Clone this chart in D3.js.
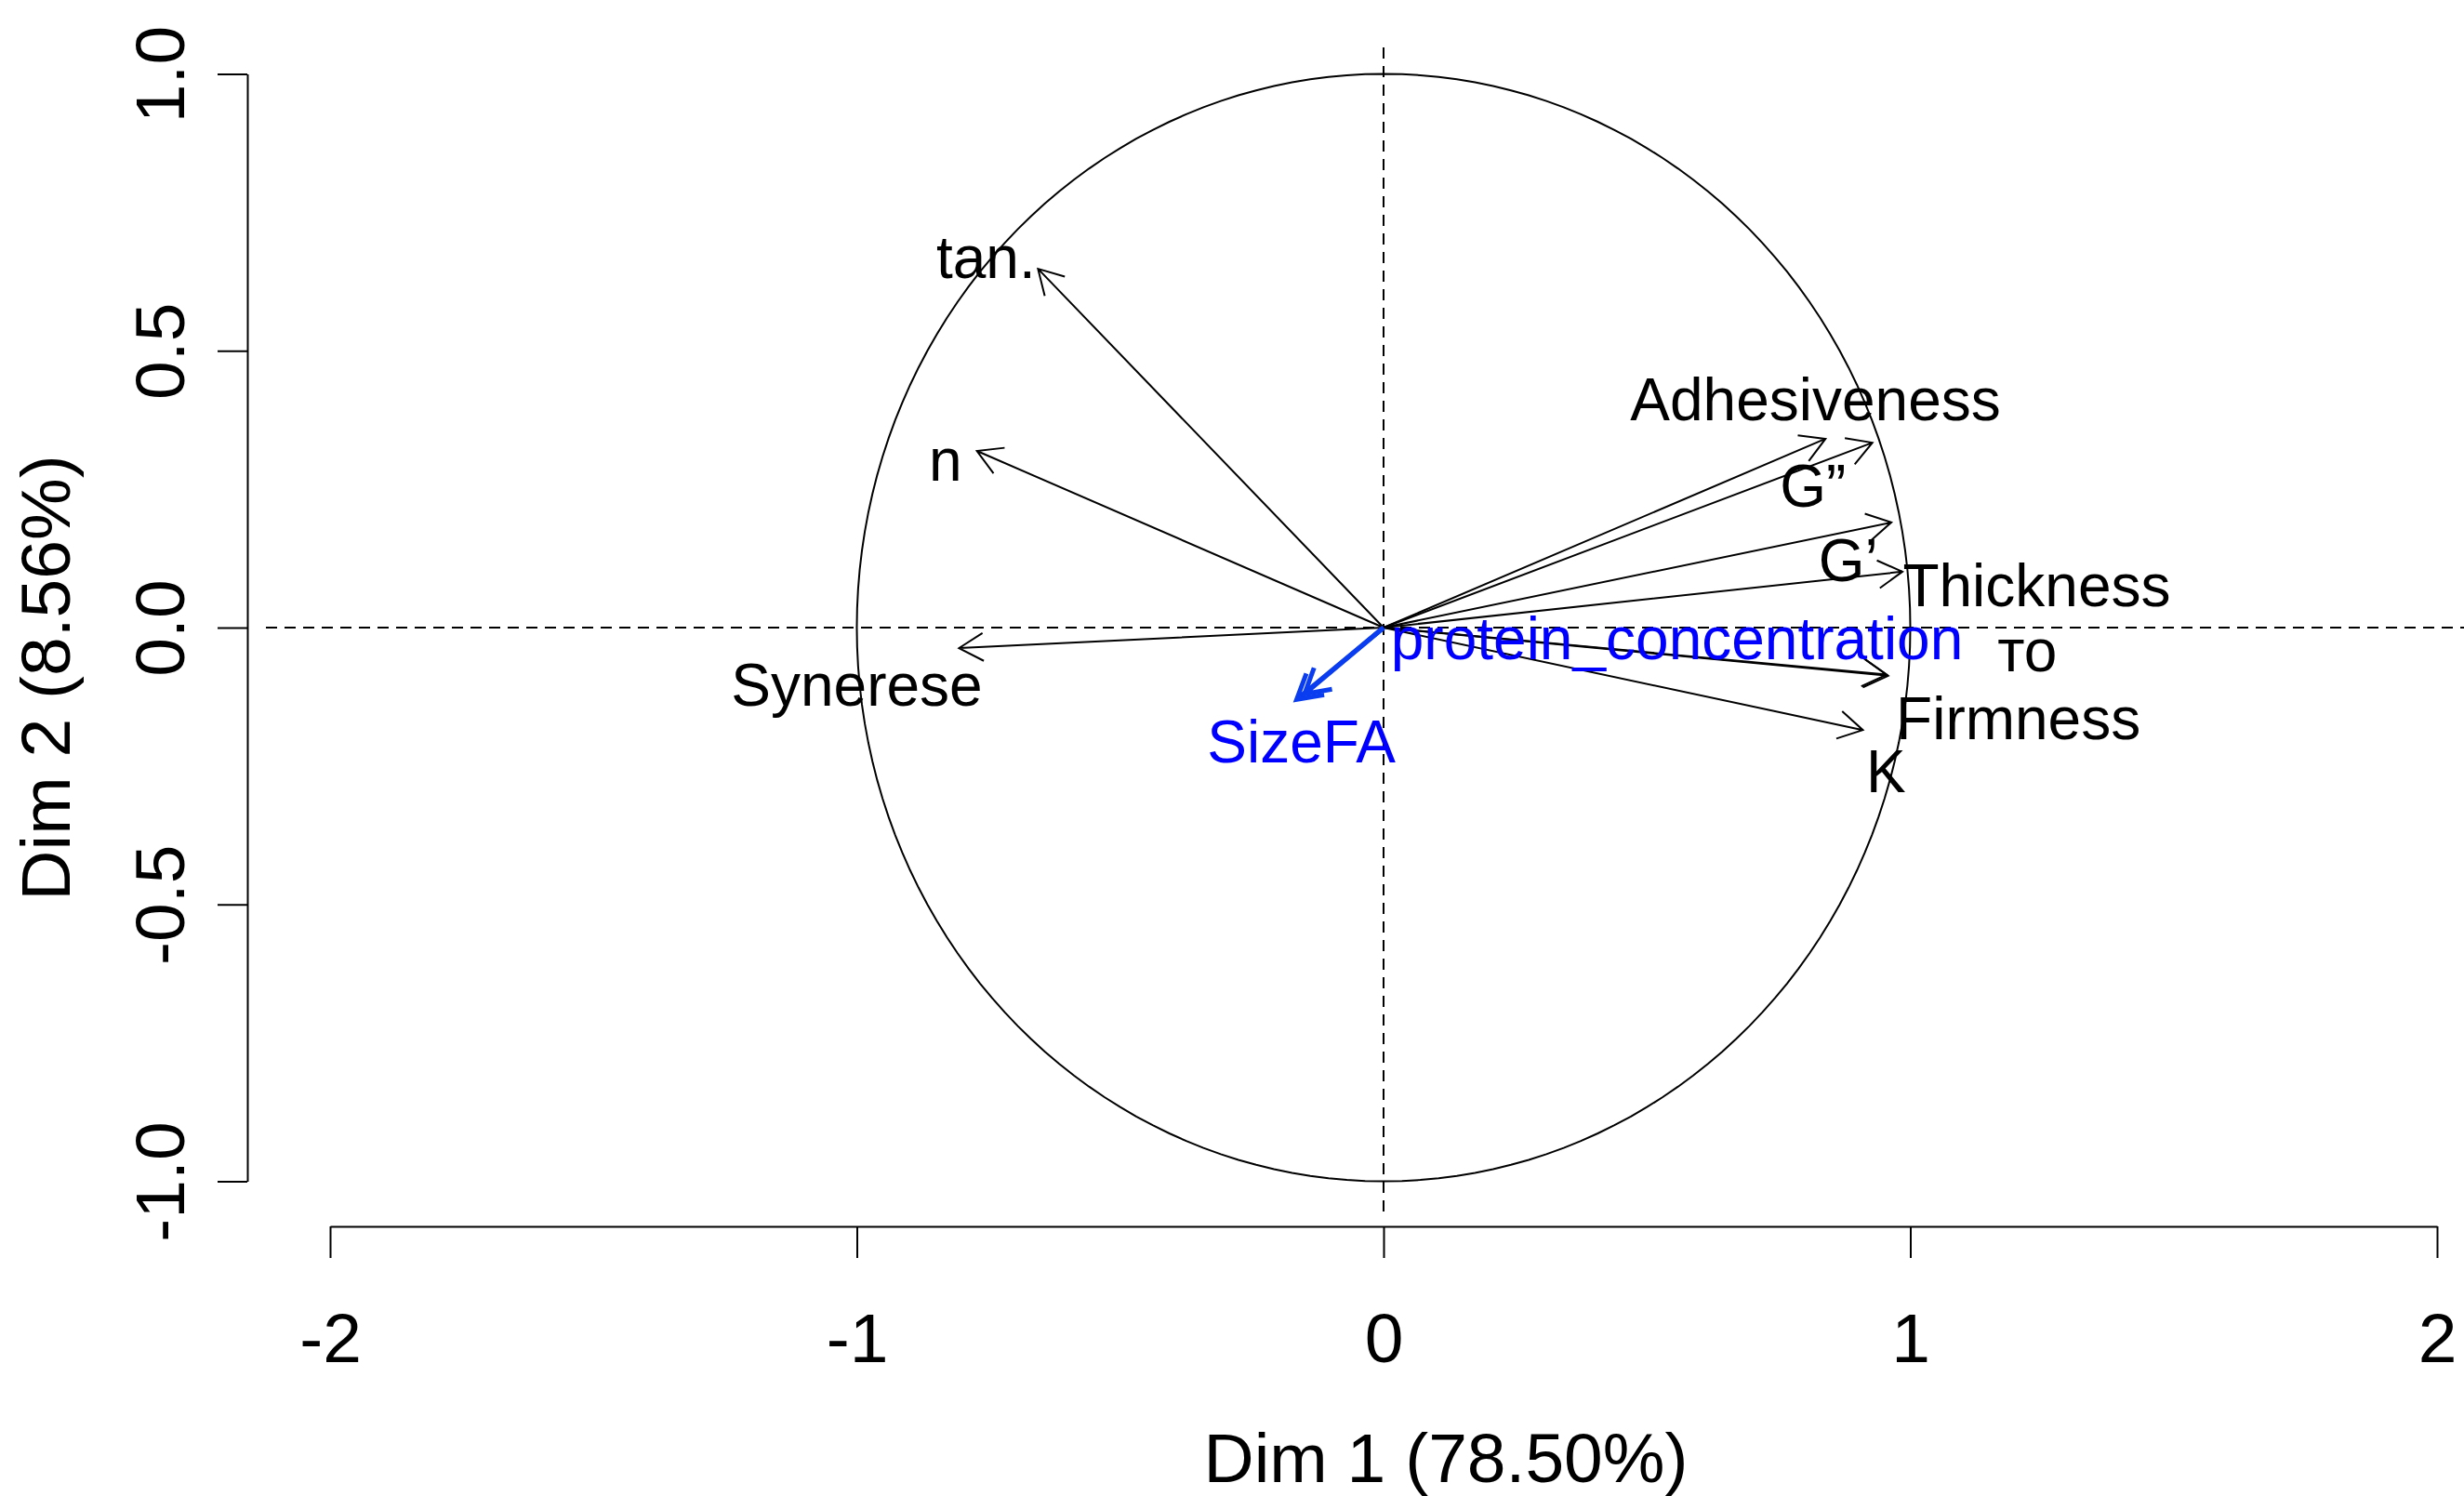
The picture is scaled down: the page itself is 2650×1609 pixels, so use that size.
<!DOCTYPE html>
<html>
<head>
<meta charset="utf-8">
<script src="https://cdn.jsdelivr.net/npm/d3@7"></script>
<style>
  body { margin: 0; background: #fff; }
  text { font-family: "Liberation Sans", Arial, sans-serif; }
</style>
</head>
<body>
<svg id="chart" width="2650" height="1609"></svg>
<script>
// active variables (coordinates on Dim 1 / Dim 2)
const varNames = ["tan.", "n", "Synerese", "Adhesiveness", "G”", "G’", "Thickness", "то", "Firmness", "K"];
const dim1 = [-0.656, -0.772, -0.806, 0.839, 0.928, 0.964, 0.985, 0.958, 0.955, 0.910];
const dim2 = [0.648, 0.319, -0.037, 0.341, 0.334, 0.190, 0.101, -0.087, -0.085, -0.185];
// label anchor points (data units, text baseline)
const labX = [-0.755, -0.832, -1.000, 0.820, 0.815, 0.882, 1.240, 1.222, 1.205, 0.954];
const labY = [0.631, 0.265, -0.141, 0.374, 0.218, 0.084, 0.039, -0.079, -0.202, -0.297];

// supplementary variables (blue)
const supNames = ["SizeFA", "protein_concentration"];
const supDim1 = [-0.165, -0.150];
const supDim2 = [-0.130, -0.120];
const supLabX = [-0.156, 0.557];
const supLabY = [-0.243, -0.057];

const xTicks = [-2, -1, 0, 1, 2];
const yTicks = [-1.0, -0.5, 0.0, 0.5, 1.0];
const xTitle = "Dim 1 (78.50%)";
const yTitle = "Dim 2 (8.56%)";

const svg = d3.select("#chart");
const x = d3.scaleLinear().domain([-2, 2]).range([355, 2621]);
const y = d3.scaleLinear().domain([-1, 1]).range([1270.5, 79.5]);

// R style labels use a plain hyphen for minus
const hyph = f => d => f(d).replace("−", "-");

// axes
const xAxis = svg.append("g").attr("transform", "translate(0,1319)")
  .call(d3.axisBottom(x).tickValues(xTicks).tickSize(34).tickSizeOuter(0).tickFormat(hyph(d3.format("d"))));
xAxis.selectAll("text").attr("y", 146).attr("dy", null)
  .style("font-size", "75px").attr("fill", "#000");

const yAxis = svg.append("g").attr("transform", "translate(266,0)")
  .call(d3.axisLeft(y).tickValues(yTicks).tickSize(32).tickSizeOuter(0).tickFormat(hyph(d3.format(".1f"))));
yAxis.selectAll("text")
  .attr("x", null).attr("dy", null)
  .attr("text-anchor", "middle")
  .attr("transform", "translate(-68,0) rotate(-90)")
  .style("font-size", "75px").attr("fill", "#000");

svg.selectAll(".domain, .tick line").attr("stroke", "#000").attr("stroke-width", 2);

svg.append("text").attr("x", 1555).attr("y", 1594).attr("text-anchor", "middle")
  .style("font-size", "75px").text(xTitle);
svg.append("text").attr("transform", "translate(75,729) rotate(-90)").attr("text-anchor", "middle")
  .style("font-size", "75px").text(yTitle);

// reference lines
svg.append("line").attr("x1", 286).attr("x2", 2650).attr("y1", y(0)).attr("y2", y(0))
  .attr("stroke", "#000").attr("stroke-width", 2).attr("stroke-dasharray", "12 8");
svg.append("line").attr("x1", x(0)).attr("x2", x(0)).attr("y1", 51).attr("y2", 1303)
  .attr("stroke", "#000").attr("stroke-width", 2).attr("stroke-dasharray", "12 8");

// correlation circle
const circle = d3.range(0, 361, 2).map(a => [Math.cos(a * Math.PI / 180), Math.sin(a * Math.PI / 180)]);
svg.append("path")
  .attr("d", d3.line().x(d => x(d[0])).y(d => y(d[1]))(circle))
  .attr("fill", "none").attr("stroke", "#000").attr("stroke-width", 2);

function arrowPath(vx, vy) {
  const x0 = x(0), y0 = y(0), x1 = x(vx), y1 = y(vy);
  const ang = Math.atan2(y1 - y0, x1 - x0);
  const L = 30, h = Math.PI / 6;
  const b1 = [x1 - L * Math.cos(ang - h), y1 - L * Math.sin(ang - h)];
  const b2 = [x1 - L * Math.cos(ang + h), y1 - L * Math.sin(ang + h)];
  return `M${x0},${y0}L${x1},${y1}M${b1[0]},${b1[1]}L${x1},${y1}L${b2[0]},${b2[1]}`;
}

// active arrows
svg.append("g").selectAll("path").data(varNames).join("path")
  .attr("d", (d, i) => arrowPath(dim1[i], dim2[i]))
  .attr("fill", "none").attr("stroke", "#000").attr("stroke-width", 2);

// supplementary arrows
svg.append("g").selectAll("path").data(supNames).join("path")
  .attr("d", (d, i) => arrowPath(supDim1[i], supDim2[i]))
  .attr("fill", "none").attr("stroke", "#0a3cf0").attr("stroke-width", 5);

// labels
svg.append("g").selectAll("text").data(varNames).join("text")
  .attr("x", (d, i) => x(labX[i])).attr("y", (d, i) => y(labY[i]))
  .attr("text-anchor", "middle").style("font-size", "64px").attr("fill", "#000")
  .text(d => d);

svg.append("g").selectAll("text").data(supNames).join("text")
  .attr("x", (d, i) => x(supLabX[i])).attr("y", (d, i) => y(supLabY[i]))
  .attr("text-anchor", "middle").style("font-size", "64px").attr("fill", "#0000ff")
  .text(d => d);
</script>
</body>
</html>
